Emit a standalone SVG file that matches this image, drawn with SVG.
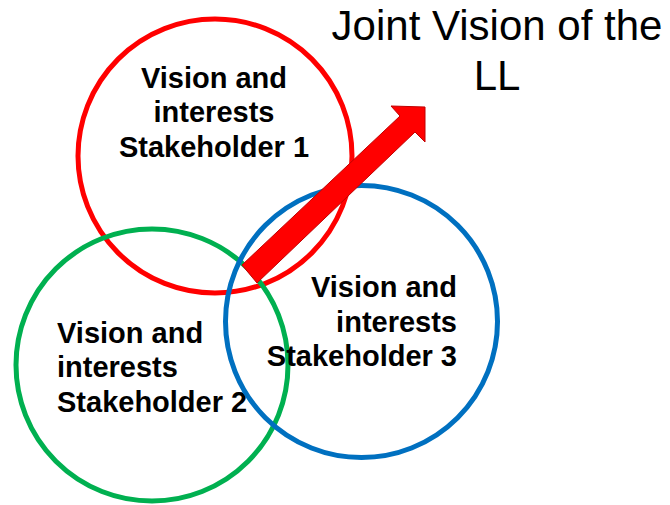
<svg xmlns="http://www.w3.org/2000/svg" width="670" height="505" viewBox="0 0 670 505">
<style>
.c{fill:none;stroke-width:5}
.t{font-family:"Liberation Sans",Arial,sans-serif;font-weight:bold;font-size:29px;fill:#000}
.title{font-family:"Liberation Sans",Arial,sans-serif;font-size:42px;fill:#000;text-anchor:middle}
</style>
<rect width="670" height="505" fill="#fff"/>
<g id="stakeholder1">
<circle class="c" cx="215" cy="156" r="137" stroke="#FF0000"/>
<text class="t" text-anchor="middle"><tspan x="214" y="88">Vision and</tspan><tspan x="214" y="122">interests</tspan><tspan x="214" y="157">Stakeholder 1</tspan></text>
</g>
<g id="stakeholder2">
<circle class="c" cx="152" cy="365" r="136" stroke="#00B050"/>
<text class="t" text-anchor="start"><tspan x="57" y="343">Vision and</tspan><tspan x="57" y="377">interests</tspan><tspan x="57" y="412">Stakeholder 2</tspan></text>
</g>
<g id="stakeholder3">
<circle class="c" cx="361.5" cy="321.5" r="136" stroke="#0070C0"/>
<text class="t" text-anchor="end"><tspan x="457" y="297">Vision and</tspan><tspan x="457" y="332">interests</tspan><tspan x="457" y="366">Stakeholder 3</tspan></text>
</g>
<g id="connectors">
<polygon points="242,265 400,116 391,106 425,107 425,142 415,132 257,283" fill="#FF0000" stroke="#C00000" stroke-width="1" stroke-linejoin="miter"/>
</g>
<g id="joint-vision">
<text class="title"><tspan x="497" y="40">Joint Vision of the</tspan><tspan x="497" y="90">LL</tspan></text>
</g>
</svg>
